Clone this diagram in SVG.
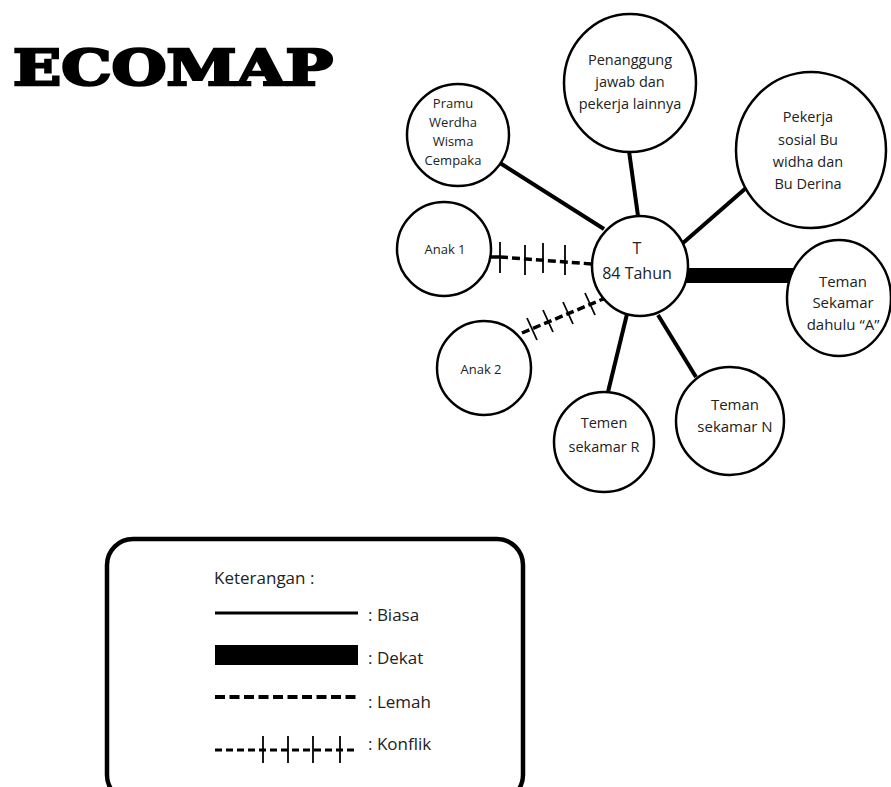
<svg xmlns="http://www.w3.org/2000/svg" width="891" height="787" viewBox="0 0 891 787">
<style>
.node{fill:#fff;stroke:#000;stroke-width:2.5}
.lbl{font-family:"Open Sans","DejaVu Sans",sans-serif;fill:#222;text-anchor:middle}
.s12{font-size:13px}
.s14{font-size:14.5px}
.s16{font-size:16px}
.biasa{stroke:#000;stroke-width:4;fill:none}
.lemah{stroke:#000;stroke-width:4;fill:none;stroke-dasharray:10 4.5}
.konf{stroke:#000;stroke-width:3.5;fill:none;stroke-dasharray:8 4}
.tick{stroke:#000;stroke-width:1.8}
.leg{font-family:"Open Sans","DejaVu Sans",sans-serif;font-size:17px;fill:#222}
</style>
<rect width="891" height="787" fill="#fff"/>
<text x="13" y="85" font-family="'DejaVu Serif',serif" font-weight="bold" font-size="48" textLength="320" lengthAdjust="spacingAndGlyphs" fill="#000" stroke="#000" stroke-width="2.5">ECOMAP</text>

<g id="connectors">
  <line class="biasa" x1="500" y1="163" x2="604" y2="229"/>
  <line class="biasa" x1="629" y1="151" x2="638" y2="216"/>
  <line class="biasa" x1="746" y1="188" x2="683" y2="243"/>
  <rect x="684" y="268" width="110" height="15" fill="#000"/>
  <line class="biasa" x1="627" y1="314" x2="608" y2="392"/>
  <line class="biasa" x1="658" y1="315" x2="696" y2="377"/>
  <g id="conflict-anak1">
    <line x1="490" y1="257" x2="500" y2="257" stroke="#000" stroke-width="3.5"/>
    <line class="konf" x1="500" y1="257" x2="592" y2="264"/>
    <line class="tick" x1="500" y1="242" x2="500" y2="273"/>
    <line class="tick" x1="525" y1="245" x2="525" y2="275"/>
    <line class="tick" x1="543" y1="243" x2="543" y2="273"/>
    <line class="tick" x1="565" y1="245" x2="565" y2="275"/>
  </g>
  <g id="conflict-anak2">
    <line class="konf" x1="522" y1="333" x2="603" y2="299"/>
    <circle cx="603" cy="299" r="2" fill="#000"/>
    <line class="tick" x1="527" y1="318" x2="537" y2="340"/>
    <line class="tick" x1="543" y1="310" x2="553" y2="332"/>
    <line class="tick" x1="563" y1="302" x2="573" y2="324"/>
    <line class="tick" x1="585" y1="293" x2="595" y2="315"/>
  </g>
</g>

<g id="node-T">
  <ellipse class="node" cx="640" cy="266" rx="48" ry="50"/>
  <text class="lbl s16" x="637" y="254">T</text>
  <text class="lbl s16" x="637" y="279">84 Tahun</text>
</g>
<g id="node-pramu">
  <circle class="node" cx="458" cy="135" r="51"/>
  <text class="lbl s12" x="453" y="108">Pramu</text>
  <text class="lbl s12" x="453" y="127">Werdha</text>
  <text class="lbl s12" x="453" y="146">Wisma</text>
  <text class="lbl s12" x="453" y="165">Cempaka</text>
</g>
<g id="node-penanggung">
  <ellipse class="node" cx="630" cy="83" rx="66" ry="69"/>
  <text class="lbl s14" x="630" y="65">Penanggung</text>
  <text class="lbl s14" x="630" y="87">jawab dan</text>
  <text class="lbl s14" x="630" y="109">pekerja lainnya</text>
</g>
<g id="node-pekerja">
  <ellipse class="node" cx="811" cy="150" rx="75" ry="78"/>
  <text class="lbl s14" x="808" y="122">Pekerja</text>
  <text class="lbl s14" x="808" y="145">sosial Bu</text>
  <text class="lbl s14" x="808" y="167">widha dan</text>
  <text class="lbl s14" x="808" y="189">Bu Derina</text>
</g>
<g id="node-temanA">
  <ellipse class="node" cx="839" cy="298" rx="52" ry="58"/>
  <text class="lbl s14" x="843" y="287" style="font-size:15px">Teman</text>
  <text class="lbl s14" x="843" y="308" style="font-size:15px">Sekamar</text>
  <text class="lbl s14" x="843" y="330" style="font-size:15px">dahulu “A”</text>
</g>
<g id="node-anak1">
  <circle class="node" cx="444" cy="249" r="47"/>
  <text class="lbl s12" x="445" y="254">Anak 1</text>
</g>
<g id="node-anak2">
  <circle class="node" cx="484" cy="368" r="47"/>
  <text class="lbl s12" x="481" y="374">Anak 2</text>
</g>
<g id="node-temenR">
  <circle class="node" cx="604" cy="442" r="50"/>
  <text class="lbl s14" x="604" y="428">Temen</text>
  <text class="lbl s14" x="604" y="452">sekamar R</text>
</g>
<g id="node-temanN">
  <circle class="node" cx="730" cy="421" r="54"/>
  <text class="lbl s14" x="735" y="410" style="font-size:15px">Teman</text>
  <text class="lbl s14" x="735" y="432" style="font-size:15px">sekamar N</text>
</g>

<g id="legend">
  <rect x="107" y="539" width="416" height="262" rx="26" fill="none" stroke="#000" stroke-width="4.5"/>
  <text class="leg" x="214" y="584">Keterangan :</text>
  <line x1="215" y1="613" x2="358" y2="613" stroke="#000" stroke-width="3"/>
  <text class="leg" x="368" y="621">: Biasa</text>
  <rect x="215" y="645" width="143" height="20" fill="#000"/>
  <text class="leg" x="368" y="664">: Dekat</text>
  <line class="lemah" x1="215" y1="697" x2="358" y2="697"/>
  <text class="leg" x="368" y="708">: Lemah</text>
  <line x1="215" y1="750" x2="358" y2="750" stroke="#000" stroke-width="3" stroke-dasharray="7 4"/>
  <line class="tick" x1="263" y1="736" x2="263" y2="763"/>
  <line class="tick" x1="288" y1="736" x2="288" y2="763"/>
  <line class="tick" x1="313" y1="736" x2="313" y2="763"/>
  <line class="tick" x1="340" y1="736" x2="340" y2="763"/>
  <text class="leg" x="368" y="750">: Konflik</text>
</g>
</svg>
